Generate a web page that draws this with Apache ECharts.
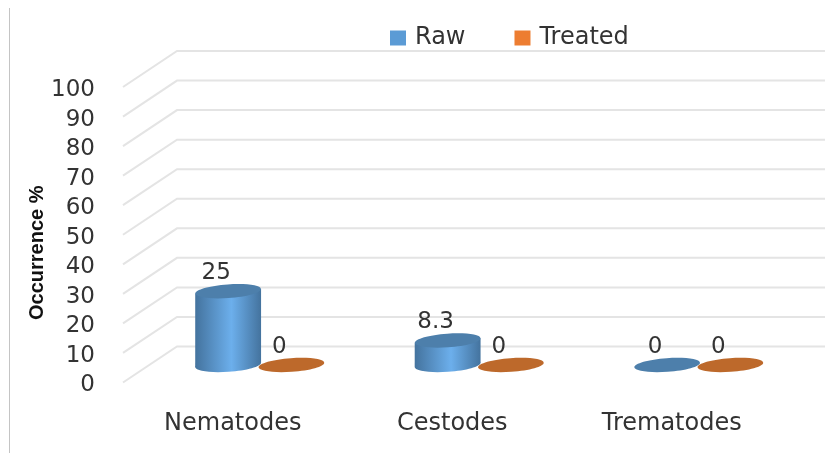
<!DOCTYPE html>
<html>
<head>
<meta charset="utf-8">
<style>
    html, body { margin: 0; padding: 0; background: #fff; }
    #main { width: 825px; height: 453px; }
</style>
<script src="https://cdn.jsdelivr.net/npm/echarts@6/dist/echarts.min.js"></script>
</head>
<body>
<div id="main"></div>
<script>
    var categories = ['Nematodes', 'Cestodes', 'Trematodes'];
    var rawValues = [25, 8.3, 0];
    var treatedValues = [0, 0, 0];
    var ticks = [0, 10, 20, 30, 40, 50, 60, 70, 80, 90, 100];

    var chartFont = 'DejaVu Sans';
    var textColor = '#333333';
    var gridColor = '#e4e4e4';

    var DEPTH_X = 54, DEPTH_Y = 36;  // 透视偏移：前沿到后墙
    var LABEL_SHIFT = 3;             // 刻度文字比线低一点

    // 后墙横线 + 斜线
    function renderWall(params, api) {
        var y = api.coord([0, api.value(0)])[1] - LABEL_SHIFT;
        var left = params.coordSys.x;
        var right = 825;
        return {
            type: 'polyline',
            shape: { points: [[left, y], [left + DEPTH_X, y - DEPTH_Y], [right, y - DEPTH_Y]] },
            style: { fill: null, stroke: gridColor, lineWidth: 2 }
        };
    }

    // 圆柱，中心线在中间深度
    function makeCylinder(side, col) {
        return function (params, api) {
            var top = api.coord([api.value(0), api.value(1)]);
            var base = api.coord([api.value(0), 0]);
            var bandWidth = api.size([1, 0])[0];
            var cx = top[0] + side * bandWidth * 0.144;
            var rx = bandWidth * 0.15, ry = 6.8, tilt = 0.07;
            var d = rx * Math.sin(tilt);
            var fill = {
                type: 'linear', x: 0, y: 0, x2: 1, y2: 0,
                colorStops: [
                    { offset: 0, color: col.edge },
                    { offset: 0.55, color: col.mid },
                    { offset: 1, color: col.edge }
                ]
            };
            var children = [];
            if (api.value(1) > 0) {
                children.push({
                    type: 'ellipse', x: cx, y: base[1], rotation: tilt,
                    shape: { cx: 0, cy: 0, rx: rx, ry: ry }, style: { fill: fill }
                });
                children.push({
                    type: 'polygon',
                    shape: { points: [[cx - rx, top[1] + d], [cx + rx, top[1] - d], [cx + rx, base[1] - d], [cx - rx, base[1] + d]] },
                    style: { fill: fill }
                });
            }
            children.push({
                type: 'ellipse', x: cx, y: top[1], rotation: tilt,
                shape: { cx: 0, cy: 0, rx: rx, ry: ry }, style: { fill: col.cap }
            });
            children.push({
                type: 'text', x: cx - 12, y: top[1] - 18,
                style: {
                    text: String(api.value(1)), font: '23px "' + chartFont + '"', fill: textColor,
                    align: 'center', verticalAlign: 'middle'
                }
            });
            return { type: 'group', children: children };
        };
    }

    function pairs(values) {
        return values.map(function (v, i) { return [i, v]; });
    }

    var option = {
        animation: false,
        backgroundColor: '#ffffff',
        legend: {
            data: ['Raw', 'Treated'],
            left: 385, top: 21, itemWidth: 16, itemHeight: 15, itemGap: 49,
            icon: 'rect',
            textStyle: { fontFamily: chartFont, fontSize: 24, color: textColor, padding: [0, 0, 0, 4] }
        },
        grid: [
            // 前沿：刻度和类目标签
            { left: 123, top: 87 + LABEL_SHIFT, width: 658.5, height: 295.5 },
            // 圆柱所在的中间深度
            { left: 150, top: 70, width: 658.5, height: 295 }
        ],
        xAxis: [
            {
                gridIndex: 0, type: 'category', data: categories,
                axisLine: { show: false }, axisTick: { show: false },
                axisLabel: { fontFamily: chartFont, fontSize: 24, color: textColor, margin: 26 }
            },
            { gridIndex: 1, type: 'category', data: categories, show: false }
        ],
        yAxis: [
            {
                gridIndex: 0, type: 'value', min: 0, max: 100, interval: 10,
                name: 'Occurrence %', nameLocation: 'middle', nameGap: 76, nameRotate: 90,
                nameMoveOverlap: false,
                nameTextStyle: {
                    fontFamily: 'Liberation Sans', fontWeight: 'bold', fontSize: 20, color: '#111111',
                    padding: [0, 30, 0, 0]
                },
                axisLine: { show: false }, axisTick: { show: false }, splitLine: { show: false },
                axisLabel: { fontFamily: chartFont, fontSize: 23, color: textColor, margin: 28 }
            },
            { gridIndex: 1, type: 'value', min: 0, max: 100, show: false, splitLine: { show: false } }
        ],
        graphic: [{
            type: 'line', silent: true,
            shape: { x1: 9.5, y1: 8, x2: 9.5, y2: 453 },
            style: { stroke: '#c4c4c4', lineWidth: 1 }
        }],
        series: [
            {
                type: 'custom', name: 'wall', xAxisIndex: 0, yAxisIndex: 0, silent: true, z: 1,
                renderItem: renderWall,
                data: ticks.map(function (t) { return [t]; }),
                encode: { y: 0 }
            },
            {
                type: 'custom', name: 'Raw', xAxisIndex: 1, yAxisIndex: 1, z: 2,
                itemStyle: { color: '#5b9bd5' },
                renderItem: makeCylinder(-1, { edge: '#44739e', mid: '#6cafec', cap: '#4d7fab' }),
                data: pairs(rawValues),
                encode: { x: 0, y: 1 }
            },
            {
                type: 'custom', name: 'Treated', xAxisIndex: 1, yAxisIndex: 1, z: 3,
                itemStyle: { color: '#ed7d31' },
                renderItem: makeCylinder(1, { edge: '#a85c26', mid: '#ed7d31', cap: '#bd692b' }),
                data: pairs(treatedValues),
                encode: { x: 0, y: 1 }
            }
        ]
    };

    var myChart = echarts.init(document.getElementById('main'), null, { renderer: 'canvas' });
    myChart.setOption(option);
</script>
</body>
</html>
